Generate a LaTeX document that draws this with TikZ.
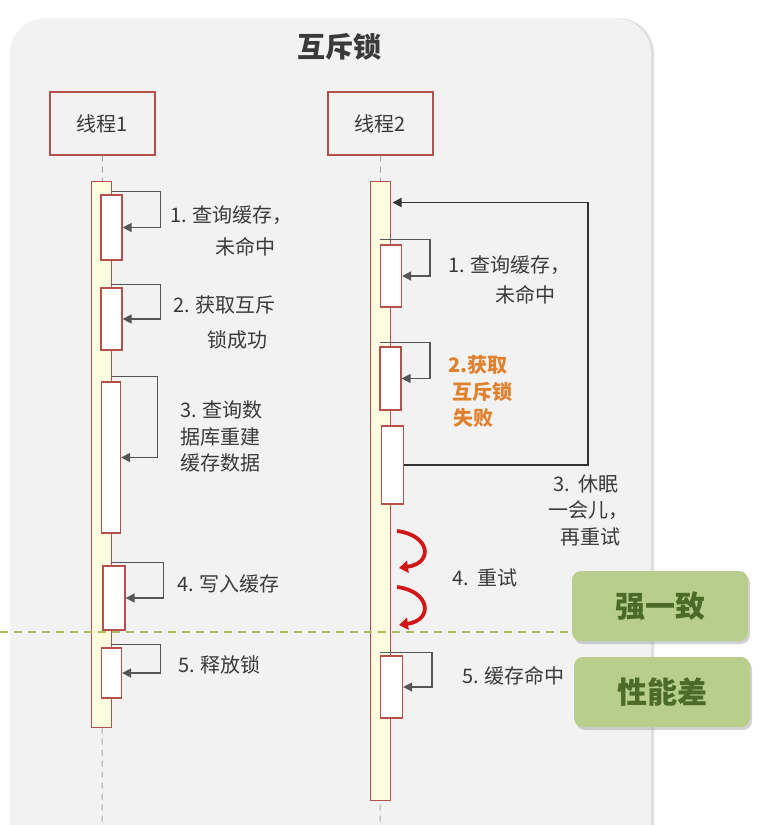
\documentclass[tikz,border=0pt]{standalone}
\usepackage{fontspec}
\setmainfont{Noto Sans CJK SC}
\usetikzlibrary{arrows.meta,shadows}
\definecolor{bggray}{HTML}{F2F2F2}
\definecolor{boxred}{HTML}{B5504B}
\definecolor{baryellow}{HTML}{FFFCE0}
\definecolor{txtgray}{HTML}{3A3A3A}
\definecolor{arrgray}{HTML}{555555}
\definecolor{orangetxt}{HTML}{E0812E}
\definecolor{greenfill}{HTML}{B7CE8D}
\definecolor{greentxt}{HTML}{4C6A28}
\definecolor{dashgreen}{HTML}{AEBB66}
\definecolor{redarr}{HTML}{D01616}
\tikzset{
  thread/.style={draw=boxred, line width=1.3pt, fill=bggray, minimum width=105pt, minimum height=63pt, inner sep=0pt, font=\fontsize{20}{22}\selectfont, text=txtgray},
  actbar/.style={draw=boxred, line width=1pt, fill=baryellow, minimum width=20pt, inner sep=0pt},
  actbox/.style={draw=boxred, line width=1.3pt, fill=white, minimum width=21pt, inner sep=0pt},
  selfarr/.style={draw=arrgray, line width=1.6pt, -{Triangle[length=9pt,width=9pt]}},
  lifeline/.style={draw=gray!70, line width=1pt, dash pattern=on 6pt off 5pt},
  lbl/.style={anchor=west, inner sep=0pt, font=\fontsize{20}{22}\selectfont, text=txtgray},
  olbl/.style={lbl, text=orangetxt, font=\fontsize{20}{22}\selectfont\bfseries},
  greenbox/.style={draw=none, fill=greenfill, rounded corners=9pt, minimum width=176pt, minimum height=70pt, drop shadow={shadow xshift=2pt, shadow yshift=-3pt, opacity=0.35}, font=\fontsize{30}{32}\selectfont\bfseries, text=greentxt},
  redcurve/.style={draw=redarr, line width=3.8pt, -{Triangle[length=9pt,width=12pt]}}
}
\begin{document}
\begin{tikzpicture}[x=1pt,y=-1pt]
\clip (0,0) rectangle (760,825);
\fill[white] (0,0) rectangle (760,825);
% background panel
\fill[gray!25] (12,18) [rounded corners=36pt] rectangle (654,880);
\fill[bggray] (10,18) [rounded corners=36pt] rectangle (651,880);
% title
\node[font=\fontsize{28}{30}\selectfont\bfseries, text=txtgray] (title) at (339,47) {互斥锁};
% threads
\node[thread] (t1) at (102.5,123.5) {线程1};
\node[thread] (t2) at (380.5,123.5) {线程2};
\coordinate (end1) at (102,825);
\coordinate (end2) at (380,825);
\draw[lifeline] (t1.south) -- (end1);
\draw[lifeline] (t2.south) -- (end2);
% activation bars
\node[actbar, minimum height=546pt] (bar1) at (101,454) {};
\node[actbar, minimum height=619pt] (bar2) at (380,490.5) {};
% thread 1 inner boxes
\node[actbox, minimum height=65pt] (a1) at (111.5,227.5) {};
\node[actbox, minimum height=62pt] (a2) at (111.5,319) {};
\node[actbox, minimum width=19pt, minimum height=151pt] (a3) at (111,457.5) {};
\node[actbox, minimum width=22pt, minimum height=64pt] (a4) at (114,598) {};
\node[actbox, minimum width=20pt, minimum height=50pt] (a5) at (111.5,673) {};
% thread 2 inner boxes
\node[actbox, minimum height=62pt] (b1) at (391,276) {};
\node[actbox, minimum height=63pt] (b2) at (390.5,378.5) {};
\node[actbox, minimum width=22pt, minimum height=78pt] (b3) at (392.5,465) {};
\node[actbox, minimum width=22pt, minimum height=62pt] (b5) at (391.5,687) {};
% thread 1 self messages
\draw[selfarr] ([yshift=3pt]a1.north -| bar1.east) -- ++(49,0) |- (a1.east);
\draw[selfarr] ([yshift=3pt]a2.north -| bar1.east) -- ++(49,0) |- (a2.east);
\draw[selfarr] ([yshift=5pt]a3.north -| bar1.east) -- ++(46,0) |- (a3.east);
\draw[selfarr] ([yshift=3pt]a4.north -| bar1.east) -- ++(52,0) |- (a4.east);
\draw[selfarr] ([yshift=3pt]a5.north -| bar1.east) -- ++(49,0) |- (a5.east);
% thread 2 self messages
\draw[selfarr] ([yshift=5pt]b1.north -| bar2.center) -- ++(50,0) |- (b1.east);
\draw[selfarr] ([yshift=4pt]b2.north -| bar2.center) -- ++(50,0) |- (b2.east);
\draw[selfarr] ([yshift=3pt]b5.north -| bar2.center) -- ++(52,0) |- (b5.east);
% retry loop
\coordinate (looptop) at ([yshift=-22pt]bar2.north east);
\draw[selfarr, draw=black!80] (b3.east) -- ++(184,0) |- ([xshift=2pt]looptop);
% red retry arrows
\coordinate (r1s) at (397,531);
\coordinate (r1e) at (399,568);
\coordinate (r2s) at (397,587);
\coordinate (r2e) at (399,625);
\draw[redcurve] (r1s) .. controls (430,535) and (434,563) .. (r1e);
\draw[redcurve] (r2s) .. controls (430,591) and (434,620) .. (r2e);
% dashed separation line
\coordinate (dl) at (0,632);
\coordinate (dr) at (575,632);
\draw[draw=dashgreen, line width=1.2pt, dash pattern=on 8pt off 6pt] (dl) -- (dr);
% thread 1 labels
\node[lbl] (l1a) at (170,215) {1. 查询缓存，};
\node[lbl] (l1b) at (215,247) {未命中};
\node[lbl] (l2a) at (173,305) {2. 获取互斥};
\node[lbl] (l2b) at (207,340) {锁成功};
\node[lbl] (l3a) at (180,410) {3. 查询数};
\node[lbl] (l3b) at (180,437) {据库重建};
\node[lbl] (l3c) at (180,463) {缓存数据};
\node[lbl] (l4) at (177,584) {4. 写入缓存};
\node[lbl] (l5) at (178,665) {5. 释放锁};
% thread 2 labels
\node[lbl] (m1a) at (448,265) {1. 查询缓存，};
\node[lbl] (m1b) at (495,295) {未命中};
\node[olbl] (m2a) at (448,365) {2.获取};
\node[olbl] (m2b) at (452,392) {互斥锁};
\node[olbl] (m2c) at (453,418) {失败};
\node[lbl] (m3a) at (553,484) {3.\ \ 休眠};
\node[lbl] (m3b) at (548,510) {一会儿，};
\node[lbl] (m3c) at (560,537) {再重试};
\node[lbl] (m4) at (452,578) {4.\ \ 重试};
\node[lbl] (m5) at (462,676) {5. 缓存命中};
% green boxes
\node[greenbox] (g1) at (660,606) {强一致};
\node[greenbox] (g2) at (662,692) {性能差};
\end{tikzpicture}
\end{document}
